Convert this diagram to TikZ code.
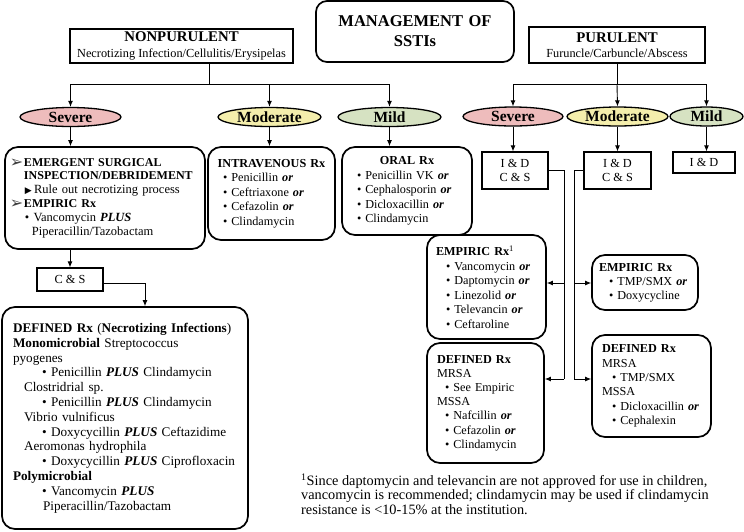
\documentclass[tikz,border=0pt]{standalone}
\usepackage{fontspec}
\setmainfont{Liberation Serif}
\newfontfamily\symfnt{DejaVu Sans}
\usetikzlibrary{shapes.geometric,arrows.meta,calc}
\definecolor{sevc}{RGB}{238,188,188}
\definecolor{modc}{RGB}{244,238,172}
\definecolor{milc}{RGB}{214,226,194}
\newcommand\hsk[1]{\hspace*{#1pt}}
\newcommand\bior{\textbf{\textit{or}}}
\newcommand\biplus{\textbf{\textit{PLUS}}}
\newcommand\arrglyph{\makebox[14pt][l]{\raisebox{-1pt}{\symfnt\fontsize{16}{16}\selectfont\color{black!75}➢}}}
\newcommand\triglyph{\makebox[9pt][l]{{\symfnt\fontsize{9}{9}\selectfont ▶}}}
\tikzset{
  arw/.style={-{Latex[length=6pt,width=5pt]}, line width=0.9pt},
  conn/.style={line width=0.9pt},
  rbox/.style={draw, line width=1.7pt, rounded corners=13pt, inner sep=0pt, align=left, font=\fontsize{12}{14.5}\selectfont},
  sbox/.style={draw, line width=1.2pt, inner sep=0pt, align=center, font=\fontsize{12.3}{14}\selectfont},
  hbox/.style={draw, line width=1.2pt, inner sep=0pt, align=center, font=\fontsize{12.3}{15.5}\selectfont},
  oval/.style={draw, ellipse, line width=1.3pt, inner sep=0pt, minimum height=19pt, font=\fontsize{15.5}{16}\selectfont\bfseries},
}
\begin{document}
\begin{tikzpicture}[x=1pt,y=-1pt]
\useasboundingbox (0,0) rectangle (744,531);

% title and headers
\node[rbox, rounded corners=11pt, align=center, minimum width=198pt, minimum height=61pt, text width=198pt,
      font=\fontsize{16.5}{20}\selectfont\bfseries] (title) at (415,31.5) {MANAGEMENT OF\\SSTIs};
\node[hbox, minimum width=223pt, minimum height=34pt] (nonp) at (181.5,46)
  {{\fontsize{14.8}{15}\selectfont\bfseries NONPURULENT}\\Necrotizing Infection/Cellulitis/Erysipelas};
\node[hbox, minimum width=176pt, minimum height=36pt] (pur) at (617,45)
  {{\fontsize{14.8}{15}\selectfont\bfseries PURULENT}\\Furuncle/Carbuncle/Abscess};

% severity ovals
\node[oval, fill=sevc, minimum width=101pt] (ns) at (70.5,117) {Severe};
\node[oval, fill=modc, minimum width=103pt] (nm) at (269.5,117) {Moderate};
\node[oval, fill=milc, minimum width=103pt] (nmi) at (389.5,117) {Mild};
\node[oval, fill=sevc, minimum width=100pt] (ps) at (513,116.5) {Severe};
\node[oval, fill=modc, minimum width=101pt] (pm) at (617.5,116.5) {Moderate};
\node[oval, fill=milc, minimum width=73pt] (pmi) at (706.5,116.5) {Mild};

% nonpurulent boxes
\node[rbox, minimum width=200pt, minimum height=102pt, text width=200pt,
      font=\fontsize{12.5}{13.8}\selectfont] (sevbox) at (105,198) {%
\hsk{5}\arrglyph{\fontsize{12}{13.8}\selectfont\textbf{EMERGENT SURGICAL}}\\
\hsk{19}{\fontsize{12}{13.8}\selectfont\textbf{INSPECTION/DEBRIDEMENT}}\\
\hsk{20}\triglyph Rule out necrotizing process\\
\hsk{5}\arrglyph{\fontsize{12}{13.8}\selectfont\textbf{EMPIRIC Rx}}\\
\hsk{20}• Vancomycin \biplus\\
\hsk{27}Piperacillin/Tazobactam};
\node[rbox, minimum width=127pt, minimum height=93pt, text width=127pt,
      font=\fontsize{12.2}{14.5}\selectfont] (ivbox) at (271.5,193.5) {%
\makebox[127pt][c]{\textbf{INTRAVENOUS Rx}}\\
\hsk{15}• Penicillin \bior\\
\hsk{15}• Ceftriaxone \bior\\
\hsk{15}• Cefazolin \bior\\
\hsk{15}• Clindamycin};
\node[rbox, minimum width=130pt, minimum height=88pt, text width=130pt,
      font=\fontsize{12.2}{14.5}\selectfont] (oralbox) at (407,191) {%
\makebox[130pt][c]{\textbf{ORAL Rx}}\\
\hsk{15}• Penicillin VK \bior\\
\hsk{15}• Cephalosporin \bior\\
\hsk{15}• Dicloxacillin \bior\\
\hsk{15}• Clindamycin};
\node[sbox, minimum width=66pt, minimum height=23pt] (cs1) at (70,279.5) {C \& S};
\node[rbox, minimum width=246pt, minimum height=222pt, text width=246pt,
      font=\fontsize{13.2}{14.8}\selectfont] (necbox) at (125,418) {%
\hsk{11}\textbf{DEFINED Rx} (\textbf{Necrotizing Infections})\\
\hsk{11}\textbf{Monomicrobial} Streptococcus\\
\hsk{11}pyogenes\\
\hsk{40}• Penicillin \biplus{} Clindamycin\\
\hsk{22}Clostridrial sp.\\
\hsk{40}• Penicillin \biplus{} Clindamycin\\
\hsk{22}Vibrio vulnificus\\
\hsk{40}• Doxycycillin \biplus{} Ceftazidime\\
\hsk{22}Aeromonas hydrophila\\
\hsk{40}• Doxycycillin \biplus{} Ciprofloxacin\\
\hsk{11}\textbf{Polymicrobial}\\
\hsk{40}• Vancomycin \biplus\\
\hsk{41}Piperacillin/Tazobactam};

% purulent boxes
\node[sbox, minimum width=66pt, minimum height=37pt] (id1) at (515,170.5) {I \& D\\C \& S};
\node[sbox, minimum width=67pt, minimum height=37pt] (id2) at (617.5,170.5) {I \& D\\C \& S};
\node[sbox, minimum width=62pt, minimum height=21pt] (id3) at (704,162.5) {I \& D};
\node[rbox, minimum width=119pt, minimum height=104pt, text width=119pt,
      font=\fontsize{12.2}{14.6}\selectfont] (emp1) at (486.5,287) {%
\hsk{9}\textbf{EMPIRIC Rx}\textsuperscript{1}\\
\hsk{19}• Vancomycin \bior\\
\hsk{19}• Daptomycin \bior\\
\hsk{19}• Linezolid \bior\\
\hsk{19}• Televancin \bior\\
\hsk{19}• Ceftaroline};
\node[rbox, minimum width=106pt, minimum height=55pt, text width=106pt,
      font=\fontsize{12.2}{14}\selectfont] (emp2) at (645,282.5) {%
\hsk{7}\textbf{EMPIRIC Rx}\\
\hsk{17}• TMP/SMX \bior\\
\hsk{17}• Doxycycline};
\node[rbox, minimum width=117pt, minimum height=120pt, text width=117pt,
      font=\fontsize{12.2}{14.2}\selectfont] (def1) at (485.5,403) {%
\hsk{10}\textbf{DEFINED Rx}\\
\hsk{10}MRSA\\
\hsk{18}• See Empiric\\
\hsk{10}MSSA\\
\hsk{18}• Nafcillin \bior\\
\hsk{18}• Cefazolin \bior\\
\hsk{18}• Clindamycin};
\node[rbox, minimum width=119pt, minimum height=102pt, text width=119pt,
      font=\fontsize{12.2}{14.4}\selectfont] (def2) at (651.5,386) {%
\hsk{10}\textbf{DEFINED Rx}\\
\hsk{10}MRSA\\
\hsk{20}• TMP/SMX\\
\hsk{10}MSSA\\
\hsk{20}• Dicloxacillin \bior\\
\hsk{20}• Cephalexin};

% footnote
\node[anchor=west, align=left, inner sep=0pt, font=\fontsize{14.3}{14.6}\selectfont] (foot) at (301,494) {%
\textsuperscript{1}Since daptomycin and televancin are not approved for use in children,\\
vancomycin is recommended; clindamycin may be used if clindamycin\\
resistance is <10-15\% at the institution.};

% connectors: nonpurulent
\coordinate (nj) at (209,84);
\draw[conn] (nj |- nonp.south) -- (nj);
\draw[arw] (nj) -| (ns.north);
\draw[arw] (nj) -| (nm.north);
\draw[arw] (nj) -| (nmi.north);
\draw[arw] (ns.south) -- (ns.south |- sevbox.north);
\draw[arw] (nm.south) -- (nm.south |- ivbox.north);
\draw[arw] (nmi.south) -- (nmi.south |- oralbox.north);
\draw[arw] (cs1.north |- sevbox.south) -- (cs1.north);
\coordinate (ck) at (145,0);
\coordinate (cy) at (0,283);
\draw[arw] (cs1.east |- cy) -| (ck |- necbox.north);

% connectors: purulent
\coordinate (pj) at (617,84);
\draw[conn] (pur.south) -- (pj);
\draw[arw] (pj) -| (ps.north);
\draw[arw] (pj) -- (pm.north);
\draw[arw] (pj) -| (pmi.north);
\draw[arw] (ps.south) -- (ps.south |- id1.north);
\draw[arw] (pm.south) -- (pm.south |- id2.north);
\draw[arw] (pmi.south) -- (pmi.south |- id3.north);

\coordinate (v1) at (564,0);
\coordinate (v2) at (574,0);
\coordinate (yhi) at (0,283);
\coordinate (ylo) at (0,379);
\draw[conn] (id1.east) -- (id1.east -| v1) -- (v1 |- ylo);
\draw[arw] (v1 |- yhi) -- (yhi -| emp1.east);
\draw[arw] (v1 |- ylo) -- (ylo -| def1.east);
\draw[conn] (id2.west) -- (id2.west -| v2) -- (v2 |- ylo);
\draw[arw] (v2 |- yhi) -- (yhi -| emp2.west);
\draw[arw] (v2 |- ylo) -- (ylo -| def2.west);
\end{tikzpicture}
\end{document}
